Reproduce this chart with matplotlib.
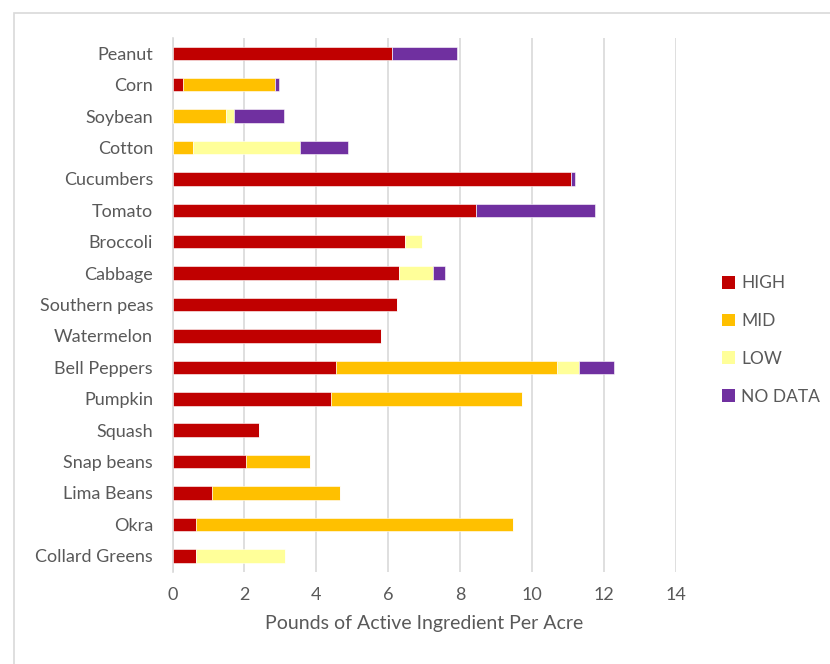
import numpy as np
import matplotlib
matplotlib.use('Agg')
import matplotlib.pyplot as plt
from matplotlib.patches import Patch, Rectangle

plt.rcParams['font.family'] = ['Lato', 'DejaVu Sans']

crops = ['Peanut', 'Corn', 'Soybean', 'Cotton', 'Cucumbers', 'Tomato', 'Broccoli',
         'Cabbage', 'Southern peas', 'Watermelon', 'Bell Peppers', 'Pumpkin',
         'Squash', 'Snap beans', 'Lima Beans', 'Okra', 'Collard Greens']

# pounds of active ingredient per acre, split by risk class
high = [6.12, 0.30, 0.00, 0.00, 11.10, 8.45, 6.46, 6.31, 6.24, 5.81, 4.56, 4.41,
        2.42, 2.05, 1.10, 0.64, 0.64]
mid = [0.00, 2.54, 1.50, 0.58, 0.00, 0.00, 0.00, 0.00, 0.00, 0.00, 6.13, 5.30,
       0.00, 1.77, 3.55, 8.83, 0.00]
low = [0.00, 0.00, 0.20, 2.96, 0.00, 0.00, 0.49, 0.95, 0.00, 0.00, 0.61, 0.00,
       0.00, 0.00, 0.00, 0.00, 2.50]
no_data = [1.80, 0.12, 1.41, 1.35, 0.11, 3.31, 0.00, 0.33, 0.00, 0.00, 0.98, 0.00,
           0.00, 0.00, 0.00, 0.00, 0.00]

series = [('HIGH', high, '#C00000'),
          ('MID', mid, '#FFC000'),
          ('LOW', low, '#FFFF99'),
          ('NO DATA', no_data, '#7030A0')]

fig = plt.figure(figsize=(8.3, 6.64), dpi=100)
# outer chart border
fig.patches.append(Rectangle((14 / 830, -0.01), 1.0, 1 - 13 / 664 + 0.01,
                             transform=fig.transFigure, fill=False,
                             edgecolor='#D9D9D9', linewidth=1.2))

ax = fig.add_axes([172.5 / 830, 1 - 571.5 / 664, (675.7 - 172.5) / 830, (571.5 - 37.6) / 664])

y = np.arange(len(crops))
left = np.zeros(len(crops))
handles = []
for name, vals, color in series:
    vals = np.array(vals)
    ax.barh(y, vals, left=left, height=0.43, color=color, edgecolor='white',
            linewidth=0.4, zorder=3)
    left += vals
    handles.append(Patch(facecolor=color, edgecolor='none', label=name))

ax.set_ylim(len(crops) - 0.5, -0.5)
ax.set_xlim(0, 14)
ax.set_xticks(range(0, 15, 2))
ax.set_yticks(y)
ax.set_yticklabels(crops)
ax.grid(axis='x', color='#D9D9D9', linewidth=1.2, zorder=0)
ax.tick_params(axis='both', length=0, labelsize=13, colors='#595959')
ax.tick_params(axis='x', pad=11)
ax.tick_params(axis='y', pad=14)
for side in ['top', 'right', 'bottom']:
    ax.spines[side].set_visible(False)
ax.spines['left'].set_color('#D9D9D9')
ax.spines['left'].set_linewidth(1.2)
ax.set_xlabel('Pounds of Active Ingredient Per Acre', fontsize=14, color='#595959',
              labelpad=9)

fig.legend(handles=handles, loc='center left', bbox_to_anchor=(722 / 830, 1 - 340 / 664),
           frameon=False, fontsize=12.5, labelcolor='#595959', handlelength=0.75,
           handleheight=0.75, handletextpad=0.35, labelspacing=1.25, borderpad=0,
           borderaxespad=0)

plt.savefig('out.png', dpi=100)
